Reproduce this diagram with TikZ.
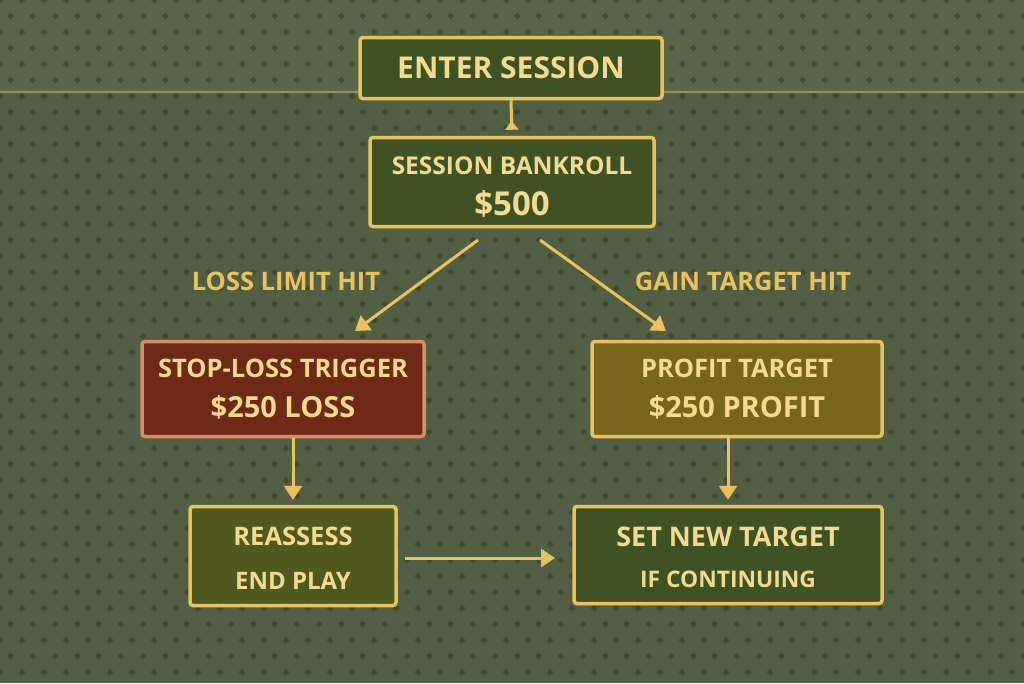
\documentclass[tikz,border=0pt]{standalone}
\usepackage{fontspec}
\setmainfont{Open Sans}
\usetikzlibrary{arrows.meta}
\definecolor{bg}{HTML}{535F45}
\definecolor{bgtop}{HTML}{5A6649}
\definecolor{dots}{HTML}{27321D}
\definecolor{gold}{HTML}{E9C25E}
\definecolor{cream}{HTML}{F4D98E}
\definecolor{greenbox}{HTML}{3E5224}
\definecolor{redbox}{HTML}{6E2A17}
\definecolor{redline}{HTML}{D98B6C}
\definecolor{olivebox}{HTML}{76651A}
\definecolor{mossbox}{HTML}{52591F}
\tikzset{
  box/.style={draw=gold, line width=3.5pt, rounded corners=3pt, align=center,
    text=cream, font=\bfseries, inner sep=0pt},
  conn/.style={draw=gold, line width=3pt, -{Triangle[length=14pt,width=18pt]}},
  lbl/.style={text=gold, font=\bfseries\fontsize{25.5}{30}\selectfont}
}
\begin{document}
\begin{tikzpicture}[x=1pt,y=-1pt]
\useasboundingbox (0,0) rectangle (1024,683);
\fill[bg] (0,0) rectangle (1024,683);
\fill[bgtop] (0,0) rectangle (1024,92);
% background diamond texture
\foreach \r in {0,...,43}{
  \foreach \c in {0,...,47}{
    \pgfmathsetmacro{\xx}{\c*22 + mod(\r,2)*11}
    \pgfmathsetmacro{\yy}{\r*16}
    \fill[dots, opacity=0.45] (\xx,\yy-3.5) -- (\xx+3.5,\yy) -- (\xx,\yy+3.5) -- (\xx-3.5,\yy) -- cycle;
  }
}
\draw[line width=2pt, color=gold!45!bgtop] (0,92) -- (1024,92);

\node[box, fill=greenbox, minimum width=302pt, minimum height=61pt,
  font=\bfseries\fontsize{30}{34}\selectfont] (enter) at (511,68) {ENTER SESSION};
\node[box, fill=greenbox, minimum width=284pt, minimum height=89pt,
  font=\bfseries\fontsize{24.5}{38}\selectfont] (bank) at (512,182)
  {\rule{0pt}{28pt}SESSION BANKROLL\\[3pt]\fontsize{33}{38}\selectfont \$500};
\node[box, fill=redbox, draw=redline, minimum width=282pt, minimum height=95pt,
  font=\bfseries\fontsize{25.5}{40}\selectfont] (stop) at (283,389)
  {STOP-LOSS TRIGGER\\\fontsize{29}{40}\selectfont \$250 LOSS};
\node[box, fill=olivebox, minimum width=290pt, minimum height=95pt,
  font=\bfseries\fontsize{25.5}{40}\selectfont] (profit) at (737,389)
  {PROFIT TARGET\\\fontsize{29}{40}\selectfont \$250 PROFIT};
\node[box, fill=mossbox, minimum width=206pt, minimum height=99pt,
  font=\bfseries\fontsize{25.5}{44}\selectfont] (reass) at (293,556)
  {\rule{0pt}{22pt}REASSESS\\\fontsize{24}{44}\selectfont END PLAY};
\node[box, fill=greenbox, minimum width=308pt, minimum height=97pt,
  font=\bfseries\fontsize{27}{41}\selectfont] (setnew) at (728,555)
  {\rule{0pt}{25pt}SET NEW TARGET\\\fontsize{22.8}{41}\selectfont IF CONTINUING};

\node[lbl] (lloss) at (286,281) {LOSS LIMIT HIT};
\node[lbl] (lgain) at (743,281) {GAIN TARGET HIT};

\coordinate (bl) at (478,240);
\coordinate (br) at (540,240);
\coordinate (sl) at (355,331);
\coordinate (pr) at (666,331);
\draw[draw=gold, line width=3pt, shorten >=6pt, -{Triangle[reversed,length=9pt,width=13pt]}]
  (enter.south) -- (bank.north);
\draw[conn] (bl) -- (sl);
\draw[conn] (br) -- (pr);
\draw[conn, shorten >=5pt] (stop.south -| reass.north) -- (reass.north);
\draw[conn, shorten >=5pt] (profit.south -| setnew.north) -- (setnew.north);
\draw[conn] (405,558) coordinate (hs) -- (555,558) coordinate (he);
\end{tikzpicture}
\end{document}
